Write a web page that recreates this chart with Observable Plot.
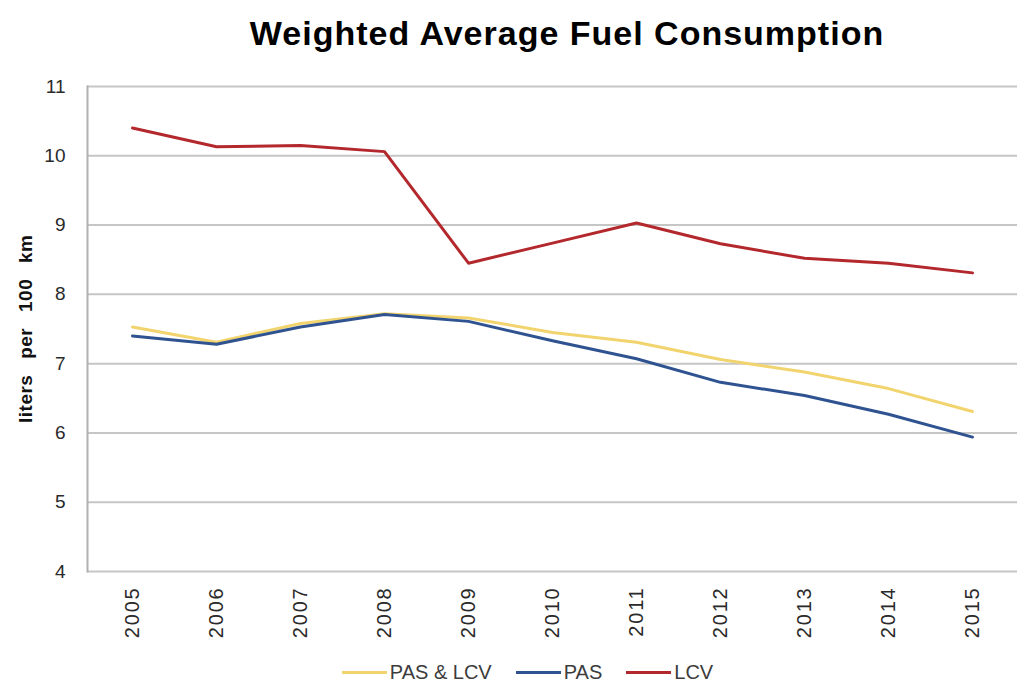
<!DOCTYPE html>
<html>
<head>
<meta charset="utf-8">
<script src="https://cdn.jsdelivr.net/npm/d3@7"></script>
<script src="https://cdn.jsdelivr.net/npm/@observablehq/plot@0.6"></script>
<style>
  html, body { margin: 0; padding: 0; background: #fff; }
  body { width: 1030px; height: 691px; overflow: hidden; font-family: "Liberation Sans", Arial, sans-serif; }
  #title { height: 60px; text-align: center; font-weight: bold; font-size: 34px; letter-spacing: 1px; color: #000; line-height: 66px; padding-left: 104px; box-sizing: border-box; }
  #chart svg { display: block; }
  #legend { display: flex; justify-content: center; align-items: center; gap: 24px; font-size: 20px; color: #3c3c3c; margin-top: 6px; padding-left: 25px; }
  .item { display: flex; align-items: center; gap: 3px; }
  .sw { width: 45px; height: 3px; display: inline-block; }
</style>
</head>
<body>
<div id="title">Weighted Average Fuel Consumption</div>
<div id="chart"></div>
<div id="legend"></div>
<script>
const years = ["2005","2006","2007","2008","2009","2010","2011","2012","2013","2014","2015"];
const pasLcv = [7.53, 7.31, 7.58, 7.72, 7.66, 7.45, 7.31, 7.06, 6.88, 6.64, 6.31];
const pas    = [7.40, 7.28, 7.53, 7.71, 7.61, 7.33, 7.07, 6.73, 6.54, 6.27, 5.94];
const lcv    = [10.40, 10.13, 10.15, 10.06, 8.45, 8.74, 9.03, 8.73, 8.52, 8.45, 8.31];
const seriesNames = ["PAS & LCV", "PAS", "LCV"];
const seriesColors = ["#f2d46e", "#2f5391", "#b3282d"];
const yTicks = [4, 5, 6, 7, 8, 9, 10, 11];
const yLabel = "liters per 100 km";

const seriesValues = [pasLcv, pas, lcv];
const rows = [];
seriesNames.forEach((s, i) => years.forEach((y, j) => rows.push({year: y, series: s, value: seriesValues[i][j]})));

const chart = Plot.plot({
  width: 1030,
  height: 595,
  marginTop: 26,
  marginLeft: 87,
  marginRight: 13,
  marginBottom: 84,
  style: { fontFamily: "'Liberation Sans', Arial, sans-serif", fontSize: "19px", color: "#2a2a2a", background: "#fff" },
  x: { type: "point", domain: years, padding: 0.5 },
  y: { domain: [4, 11] },
  color: { domain: seriesNames, range: seriesColors },
  marks: [
    Plot.ruleY(yTicks, { stroke: "#c6c6c6", strokeWidth: 2 }),
    Plot.frame({ anchor: "left", stroke: "#b0b0b0", strokeWidth: 2 }),
    Plot.axisY({ ticks: yTicks, tickFormat: d => String(d), tickSize: 0, tickPadding: 22, label: null, fontSize: 19 }),
    Plot.axisX({ tickRotate: -90, tickSize: 0, tickPadding: 15, label: null, fontSize: 20 }),
    Plot.text([yLabel], { frameAnchor: "left", rotate: -90, textAnchor: "start", dx: -62, dy: 94, fontWeight: "bold", fontSize: 19, fill: "#111" }),
    Plot.line(rows, { x: "year", y: "value", z: "series", stroke: "series", strokeWidth: 3, strokeLinejoin: "round" })
  ]
});
document.getElementById("chart").appendChild(chart);

d3.select(chart).selectAll('[aria-label="x-axis tick label"] text').style("letter-spacing", "1.8px");
d3.select(chart).selectAll("text").filter(function () { return this.textContent === yLabel; })
  .style("word-spacing", "10px").style("letter-spacing", "0.5px");

const legend = document.getElementById("legend");
seriesNames.forEach((s, i) => {
  const it = document.createElement("div");
  it.className = "item";
  const sw = document.createElement("span");
  sw.className = "sw";
  sw.style.background = seriesColors[i];
  const t = document.createElement("span");
  t.textContent = s;
  it.appendChild(sw); it.appendChild(t);
  legend.appendChild(it);
});
</script>
</body>
</html>
